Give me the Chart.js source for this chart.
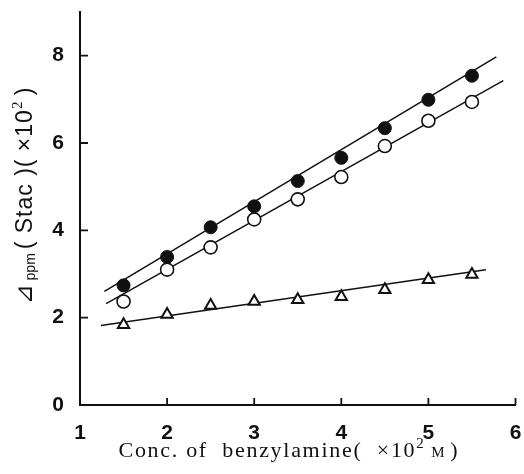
<!DOCTYPE html>
<html>
<head>
<meta charset="utf-8">
<script src="https://cdn.jsdelivr.net/npm/chart.js@4/dist/chart.umd.min.js"></script>
<style>
  html, body { margin: 0; padding: 0; background: #fff; }
  #wrap { width: 524px; height: 474px; position: relative; }
</style>
</head>
<body>
<div id="wrap"><canvas id="c"></canvas></div>
<script>
(function () {
  'use strict';

  // concentration of benzylamine (x10^2 M)
  const conc = [1.5, 2, 2.5, 3, 3.5, 4, 4.5, 5, 5.5];
  // shift values (x10^2)
  const filledVals = [2.74, 3.39, 4.07, 4.55, 5.13, 5.66, 6.34, 6.99, 7.54];
  const openVals   = [2.37, 3.10, 3.61, 4.25, 4.71, 5.22, 5.93, 6.51, 6.94];
  const triVals    = [1.84, 2.07, 2.28, 2.37, 2.41, 2.48, 2.64, 2.87, 2.99];
  // fitted straight lines: [x, y] end points
  const filledFit = [[1.28, 2.60], [5.78, 7.97]];
  const openFit   = [[1.30, 2.32], [5.86, 7.43]];
  const triFit    = [[1.24, 1.82], [5.66, 3.10]];

  const xTicks = [1, 2, 3, 4, 5, 6];
  const yTicks = [0, 2, 4, 6, 8];

  const INK = '#111';
  const pts = (ys) => conc.map((x, i) => ({ x: x, y: ys[i] }));
  const seg = (p) => p.map(q => ({ x: q[0], y: q[1] }));

  function fitLine(data) {
    return { data: seg(data), showLine: true, borderColor: INK, borderWidth: 1.5, pointRadius: 0, order: 2 };
  }

  // ticks pointing into the plot, like the original
  const innerTicks = {
    id: 'innerTicks',
    afterDraw(chart) {
      const ctx = chart.ctx;
      const area = chart.chartArea;
      const x = chart.scales.x, y = chart.scales.y;
      ctx.save();
      ctx.strokeStyle = INK;
      ctx.lineWidth = 1.8;
      ctx.beginPath();
      xTicks.forEach(v => {
        const px = x.getPixelForValue(v);
        ctx.moveTo(px, area.bottom); ctx.lineTo(px, area.bottom - 7);
      });
      yTicks.forEach(v => {
        const py = y.getPixelForValue(v);
        ctx.moveTo(area.left, py); ctx.lineTo(area.left + 8, py);
      });
      ctx.stroke();
      ctx.restore();
    }
  };

  // axis titles with sub/superscripts
  function drawRuns(ctx, runs, cx, baseY) {
    let w = 0;
    runs.forEach(r => { ctx.font = r.font; ctx.letterSpacing = r.ls || '0px'; w += ctx.measureText(r.t).width; });
    let xx = cx - w / 2;
    runs.forEach(r => {
      ctx.font = r.font;
      ctx.letterSpacing = r.ls || '0px';
      ctx.fillText(r.t, xx, baseY + (r.dy || 0));
      xx += ctx.measureText(r.t).width;
    });
  }

  const axisTitles = {
    id: 'axisTitles',
    afterDraw(chart) {
      const ctx = chart.ctx;
      const serif = '"Liberation Serif", "DejaVu Serif", serif';
      const sans = '"Liberation Sans", "DejaVu Sans", sans-serif';
      ctx.save();
      ctx.fillStyle = INK;
      ctx.textBaseline = 'alphabetic';
      ctx.textAlign = 'left';
      drawRuns(ctx, [
        { t: 'Conc. of  benzylamine(  \u00d710', font: '22px ' + serif, ls: '1.7px' },
        { t: '2', font: '15px ' + serif, dy: -9 },
        { t: '  M', font: '15px ' + serif },
        { t: ' )', font: '22px ' + serif }
      ], 288, 457);

      ctx.translate(32, 196);
      ctx.rotate(-Math.PI / 2);
      drawRuns(ctx, [
        { t: '\u22bf', font: '24px ' + sans },
        { t: ' ppm ', font: '14px ' + sans, dy: 3 },
        { t: '( Stac )( \u00d710', font: '23px ' + sans, ls: '1px' },
        { t: '2', font: '15px ' + serif, dy: -10 },
        { t: ' )', font: '23px ' + sans }
      ], 0, 0);
      ctx.restore();
    }
  };

  const tickFont = { family: '"Liberation Sans", "DejaVu Sans", sans-serif', size: 21, weight: 'bold' };

  function noPad(s) { s.paddingLeft = 0; s.paddingRight = 0; s.paddingTop = 0; s.paddingBottom = 0; }

  new Chart(document.getElementById('c'), {
    type: 'scatter',
    data: {
      datasets: [
        { data: pts(filledVals), pointStyle: 'circle', pointRadius: 6.5, backgroundColor: INK, borderColor: INK, borderWidth: 1, order: 1 },
        { data: pts(openVals), pointStyle: 'circle', pointRadius: 6.5, backgroundColor: '#fff', borderColor: INK, borderWidth: 1.6, order: 1 },
        { data: pts(triVals), pointStyle: 'triangle', pointRadius: 6.5, backgroundColor: '#fff', borderColor: INK, borderWidth: 2, order: 1 },
        fitLine(filledFit),
        fitLine(openFit),
        fitLine(triFit)
      ]
    },
    options: {
      responsive: true,
      maintainAspectRatio: false,
      animation: false,
      events: [],
      layout: { padding: { top: 12, right: 3, left: 0, bottom: 0 } },
      plugins: { legend: { display: false }, tooltip: { enabled: false } },
      scales: {
        x: {
          type: 'linear', min: 1, max: 6,
          afterBuildTicks: s => { s.ticks = xTicks.map(v => ({ value: v })); },
          afterFit: s => { s.height = 69; noPad(s); },
          grid: { display: true, drawOnChartArea: false, drawTicks: false },
          border: { display: true, color: INK, width: 2 },
          ticks: { color: INK, font: tickFont, padding: 16, maxRotation: 0 }
        },
        y: {
          type: 'linear', min: 0, max: 9,
          afterBuildTicks: s => { s.ticks = yTicks.map(v => ({ value: v })); },
          afterFit: s => { s.width = 80; noPad(s); },
          grid: { display: true, drawOnChartArea: false, drawTicks: false },
          border: { display: true, color: INK, width: 2 },
          ticks: { color: INK, font: tickFont, padding: 16 }
        }
      }
    },
    plugins: [innerTicks, axisTitles]
  });
})();
</script>
</body>
</html>
